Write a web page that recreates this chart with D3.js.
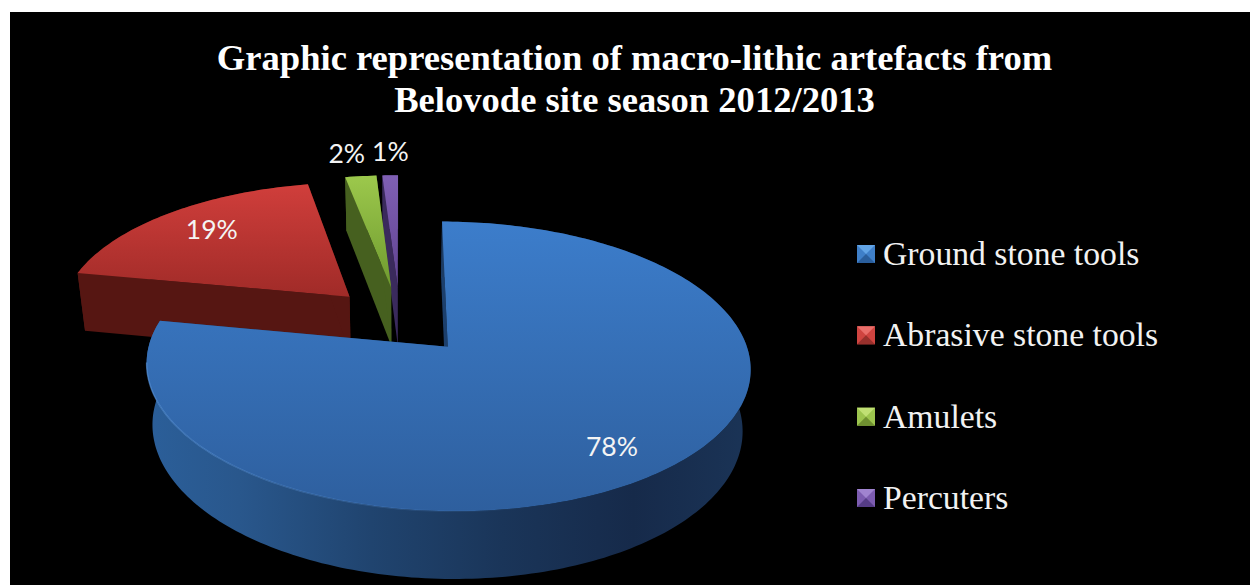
<!DOCTYPE html>
<html>
<head>
<meta charset="utf-8">
<script src="https://cdnjs.cloudflare.com/ajax/libs/d3/7.8.5/d3.min.js"></script>
<style>
  html, body { margin: 0; padding: 0; background: #fff; }
  svg { display: block; }
</style>
</head>
<body>
<svg id="chart" width="1250" height="585"></svg>
<script>
const titleLines = [
  "Graphic representation of macro-lithic artefacts from",
  "Belovode site season 2012/2013"
];
const categories = ["Ground stone tools", "Abrasive stone tools", "Amulets", "Percuters"];
const shares = [78, 19, 2, 1];

const topColors  = [["#3c7dcb", "#2e5f9e"], ["#d03e3b", "#a02b28"], ["#9cc84c", "#6f9a2f"], ["#8060b4", "#5f4290"]];
const cutColors  = ["#1c3f6c", "#561612", "#46601f", "#3a2a5c"];
const wallStops  = [
  ["#2c629f", "#29578c", "#20446f", "#1a3559", "#162a4a", "#1b3558"],
  ["#561612", "#561612"],
  ["#46601f", "#46601f"],
  ["#3a2a5c", "#3a2a5c"]
];
const markerShades = [
  ["#62a4e6", "#3f7fc8", "#2a5e9c", "#3f7fc8"],
  ["#ea6e6a", "#cf4440", "#98302c", "#cf4440"],
  ["#c0e074", "#9cc44e", "#6f9030", "#9cc44e"],
  ["#a084d0", "#7c5cb0", "#553c86", "#7c5cb0"]
];

const W = 1250, H = 585;
const svg = d3.select("#chart");
const defs = svg.append("defs");

// Black panel leaves a narrow white strip on the left and top
svg.append("rect").attr("x", 10).attr("y", 12).attr("width", W - 10).attr("height", H - 12).attr("fill", "#000");

// Perspective model of the pie plane: X runs right, Y runs away from the viewer
const R = 291.5, explode = 73, distance = 2200, tilt = 0.463;
const originX = 400, originY = 320;
const wallBase = 17, wallPersp = 42.7, baseShrink = 0.977;

const persp = Y => distance / (distance + Y);
function project(X, Y) {
  const s = persp(Y);
  return [originX + X * s, originY - Y * tilt * s];
}
function lower(X, Y) {
  const s = persp(Y);
  const [x, y] = project(X, Y);
  return [originX + (x - originX) * baseShrink, y + wallBase + wallPersp * s];
}
const planePoint = (d, angle, r) => {
  const mid = (d.startAngle + d.endAngle) / 2;
  return [
    explode * Math.sin(mid) + r * Math.sin(angle),
    explode * Math.cos(mid) + r * Math.cos(angle)
  ];
};
const arcAngles = d => {
  const n = Math.max(6, Math.ceil((d.endAngle - d.startAngle) * 50));
  return d3.range(n + 1).map(i => d.startAngle + (d.endAngle - d.startAngle) * i / n);
};

const slices = d3.pie().sort(null).value(v => v).startAngle(0).endAngle(2 * Math.PI)(shares);
const line = d3.line();
const closed = pts => line(pts) + "Z";
const pieLeft = project(-R, 0)[0], pieRight = project(R + explode, 0)[0];

// Gradients for top faces and outer walls
slices.forEach((d, i) => {
  const g = defs.append("linearGradient").attr("id", "top" + i)
    .attr("x1", 0).attr("y1", 0).attr("x2", 0).attr("y2", 1);
  g.append("stop").attr("offset", 0).attr("stop-color", topColors[i][0]);
  g.append("stop").attr("offset", 1).attr("stop-color", topColors[i][1]);
  const w = defs.append("linearGradient").attr("id", "wall" + i)
    .attr("gradientUnits", "userSpaceOnUse")
    .attr("x1", pieLeft).attr("x2", pieRight).attr("y1", 0).attr("y2", 0);
  wallStops[i].forEach((c, k) => {
    w.append("stop").attr("offset", k / (wallStops[i].length - 1)).attr("stop-color", c);
  });
});

// Rim highlight fades out towards the right
const rimFade = defs.append("linearGradient").attr("id", "rimFade")
  .attr("gradientUnits", "userSpaceOnUse")
  .attr("x1", pieLeft + 10).attr("x2", pieLeft + 430).attr("y1", 0).attr("y2", 0);
rimFade.append("stop").attr("offset", 0).attr("stop-color", "#5590d6").attr("stop-opacity", 0.7);
rimFade.append("stop").attr("offset", 1).attr("stop-color", "#5590d6").attr("stop-opacity", 0);

// Painted far to near, so the large slice sits over the others
const drawOrder = [3, 2, 1, 0];
const pieGroup = svg.append("g");
drawOrder.forEach(i => {
  const d = slices[i];
  const apex = planePoint(d, 0, 0);
  const angles = arcAngles(d);
  const rim = angles.map(a => planePoint(d, a, R));
  const g = pieGroup.append("g");

  // Cut faces from the centre out to each radius
  [rim[0], rim[rim.length - 1]].forEach(p => {
    g.append("path")
      .attr("d", closed([project(...apex), project(...p), lower(...p), lower(...apex)]))
      .attr("fill", cutColors[i]);
  });
  // Curved outer wall
  g.append("path")
    .attr("d", closed([...rim.map(p => project(...p)), ...rim.slice().reverse().map(p => lower(...p))]))
    .attr("fill", `url(#wall${i})`);
  // Top face
  g.append("path")
    .attr("d", closed([project(...apex), ...rim.map(p => project(...p))]))
    .attr("fill", `url(#top${i})`);
  // Thin light edge along the near-left rim of the large slice
  if (i === 0) {
    const near = angles
      .filter(a => Math.cos(a) < -0.1 && Math.sin(a) < 0.35)
      .map(a => project(...planePoint(d, a, R)));
    g.append("path").attr("d", line(near)).attr("fill", "none")
      .attr("stroke", "url(#rimFade)").attr("stroke-width", 1.5);
  }
});

// Percentage labels: inside the two large slices, beyond the rim of the small ones
const labelFont = "Lato, 'Open Sans', sans-serif";
const labelShift = [[4, 11], [1, -2], [-7, 3], [2, 2]];
const labelLayer = svg.append("g");
slices.forEach((d, i) => {
  const mid = (d.startAngle + d.endAngle) / 2;
  const inside = d.value >= 10;
  const [x, y] = project(...planePoint(d, mid, 293 * (inside ? 0.75 : 1.26)));
  labelLayer.append("text")
    .attr("x", x + labelShift[i][0]).attr("y", y + 9 + labelShift[i][1])
    .attr("text-anchor", "middle")
    .attr("font-family", labelFont).attr("font-size", 26.5)
    .attr("fill", "#f4f4f4")
    .text(d.value + "%");
});

// Title
svg.append("g").selectAll("text").data(titleLines).join("text")
  .attr("x", 634.5).attr("y", (d, i) => 70 + i * 42)
  .attr("text-anchor", "middle")
  .attr("font-family", "'Liberation Serif', serif")
  .attr("font-weight", "bold").attr("font-size", 36.6)
  .attr("fill", "#fff")
  .text(d => d);

// Legend with bevelled square markers
const legendY = d3.scalePoint().domain(categories).range([254, 498]);
const markerSize = 18;
const legend = svg.append("g").selectAll("g").data(categories).join("g")
  .attr("transform", d => `translate(857,${legendY(d) - markerSize / 2})`);
legend.each(function (d, i) {
  const m = d3.select(this), s = markerSize, c = s / 2;
  m.append("rect").attr("width", s).attr("height", s).attr("fill", markerShades[i][1]);
  const faces = [
    [[0, 0], [s, 0], [c, c]],
    [[0, s], [s, s], [c, c]]
  ];
  faces.forEach((f, k) => {
    m.append("path").attr("d", closed(f)).attr("fill", markerShades[i][k * 2]);
  });
});
legend.append("text")
  .attr("x", 26).attr("y", markerSize / 2 + 11)
  .attr("font-family", "'Liberation Serif', serif")
  .attr("font-size", 33.7)
  .attr("fill", "#f2f2f2")
  .text(d => d);
</script>
</body>
</html>
